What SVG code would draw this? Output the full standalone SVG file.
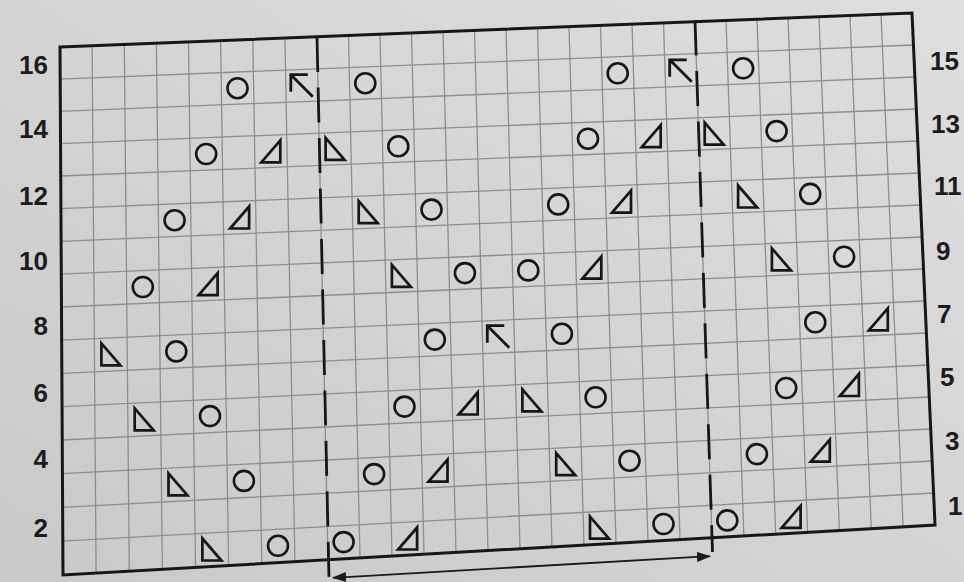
<svg xmlns="http://www.w3.org/2000/svg" xmlns:xlink="http://www.w3.org/1999/xlink" width="964" height="582" viewBox="0 0 964 582">
<defs>
<linearGradient id="paper" x1="0" y1="1" x2="1" y2="0">
<stop offset="0" stop-color="#c9c9c9"/>
<stop offset="0.5" stop-color="#d4d4d4"/>
<stop offset="1" stop-color="#dedede"/>
</linearGradient>
<circle id="o" r="10" fill="none" stroke="#161616" stroke-width="2.6"/>
<path id="a" d="M-9.5,11 L9.5,11 L9.5,-11 Z" fill="none" stroke="#161616" stroke-width="2.7" stroke-linejoin="miter"/>
<path id="b" d="M-9.5,-11 L-9.5,11 L9.5,11 Z" fill="none" stroke="#161616" stroke-width="2.7" stroke-linejoin="miter"/>
<path id="k" d="M-11,6 L-11,-11 L6,-11 M-11,-11 L11,11" fill="none" stroke="#161616" stroke-width="2.8" stroke-linecap="butt" stroke-linejoin="miter"/>
<marker id="ah" viewBox="0 0 14 10" refX="13" refY="5" markerWidth="14" markerHeight="10" markerUnits="userSpaceOnUse" orient="auto-start-reverse">
<path d="M0,0 L14,5 L0,10 Z" fill="#1a1a1a"/>
</marker>
<style>
.grid{fill:none;stroke:#8e8e8e;stroke-width:1.3}
.frame{fill:none;stroke:#171717;stroke-width:3;stroke-linejoin:miter}
.dash{fill:none;stroke:#171717;stroke-width:2.8;stroke-dasharray:35 15.5}
.lbl{font-family:"Liberation Sans",Arial,sans-serif;font-weight:700;font-size:26px;fill:#1c1c1c}
.l{text-anchor:end}
</style>
</defs>
<rect width="964" height="582" fill="url(#paper)"/>
<g id="grid">
<path class="grid" d="M92.1,45.7 L96.1,573.1 M124.3,44.4 L129.3,571.2 M156.4,43.2 L162.4,569.3 M188.5,41.9 L195.5,567.4 M220.6,40.6 L228.6,565.5 M252.8,39.3 L261.8,563.6 M284.9,38 L294.9,561.7 M317,36.7 L328,559.8 M348.5,35.5 L360,558 M380,34.2 L392,556.1 M411.5,33 L424,554.3 M443,31.7 L456,552.5 M474.5,30.5 L488,550.6 M506,29.2 L520,548.8 M537.5,27.9 L552,547 M569,26.7 L584,545.1 M600.5,25.4 L616,543.3 M632,24.2 L648,541.5 M663.5,22.9 L680,539.6 M695,21.7 L712,537.8 M726,20.4 L743.9,536 M757,19.2 L775.7,534.1 M788,18 L807.6,532.3 M819,16.7 L839.4,530.5 M850,15.5 L871.3,528.7 M881,14.2 L903.1,526.8"/>
<path class="grid" d="M62.8,541.1 L933.6,493 M62.6,507.3 L932.1,461 M62.4,473.6 L930.7,429 M62.3,440 L929.3,397 M62.1,406.6 L927.8,365 M61.9,373.3 L926.4,333 M61.7,340.1 L924.9,301 M61.5,307 L923.5,269 M61.3,274.1 L922.1,237 M61.1,241.3 L920.6,205 M60.9,208.6 L919.2,173 M60.8,176 L917.8,141 M60.6,143.6 L916.3,109 M60.4,111.3 L914.9,77 M60.2,79.1 L913.4,45"/>
</g>
<polygon id="frame" class="frame" points="60,47 912,13 935,525 63,575"/>
<g id="repeat-marks">
<line class="dash" x1="317" y1="37" x2="329" y2="578"/>
<line class="dash" x1="695" y1="20.5" x2="712.5" y2="552"/>
<line x1="333" y1="577.8" x2="710" y2="556.2" stroke="#1a1a1a" stroke-width="1.8" marker-start="url(#ah)" marker-end="url(#ah)"/>
</g>
<g id="row15">
<use href="#o" x="237.5" y="88.2"/><use href="#k" x="301.8" y="85.7"/><use href="#o" x="365.3" y="83.2"/>
<use href="#o" x="617.7" y="73.3"/><use href="#k" x="680.7" y="70.8"/><use href="#o" x="743.1" y="68.3"/>
</g>
<g id="row13">
<use href="#o" x="206.2" y="154"/><use href="#a" x="270.8" y="151.4"/><use href="#b" x="335.1" y="148.9"/><use href="#o" x="398.3" y="146.3"/>
<use href="#o" x="588" y="138.7"/><use href="#a" x="651.2" y="136.2"/><use href="#b" x="714.2" y="133.6"/><use href="#o" x="776.6" y="131.1"/>
</g>
<g id="row11">
<use href="#o" x="174.6" y="220.2"/><use href="#a" x="239.6" y="217.5"/><use href="#b" x="368.2" y="212.2"/><use href="#o" x="431.5" y="209.6"/>
<use href="#o" x="558.2" y="204.4"/><use href="#a" x="621.5" y="201.7"/><use href="#b" x="747.6" y="196.5"/><use href="#o" x="810.2" y="193.9"/>
</g>
<g id="row9">
<use href="#o" x="142.8" y="287"/><use href="#a" x="208.1" y="284.2"/><use href="#b" x="401.4" y="275.8"/><use href="#o" x="464.9" y="273.1"/>
<use href="#o" x="528.3" y="270.4"/><use href="#a" x="591.8" y="267.6"/><use href="#b" x="781.4" y="259.4"/><use href="#o" x="844.1" y="256.7"/>
</g>
<g id="row7">
<use href="#b" x="110.9" y="354.4"/><use href="#o" x="176.3" y="351.4"/><use href="#o" x="434.8" y="339.6"/><use href="#k" x="498.3" y="336.7"/>
<use href="#o" x="561.9" y="333.8"/><use href="#o" x="815.3" y="322.3"/><use href="#a" x="878.3" y="319.4"/>
</g>
<g id="row5">
<use href="#b" x="144.2" y="419.3"/><use href="#o" x="210" y="416.1"/><use href="#o" x="404.5" y="406.6"/><use href="#a" x="468.2" y="403.5"/>
<use href="#b" x="531.9" y="400.4"/><use href="#o" x="595.6" y="397.3"/><use href="#o" x="786.2" y="388"/><use href="#a" x="849.4" y="385"/>
</g>
<g id="row3">
<use href="#b" x="178" y="484.3"/><use href="#o" x="243.9" y="480.9"/><use href="#o" x="374.1" y="474.1"/><use href="#a" x="438" y="470.7"/>
<use href="#b" x="565.7" y="464.1"/><use href="#o" x="629.5" y="460.7"/><use href="#o" x="756.9" y="454.1"/><use href="#a" x="820.3" y="450.7"/>
</g>
<g id="row1">
<use href="#b" x="211.9" y="549.5"/><use href="#o" x="278" y="545.8"/><use href="#o" x="343.6" y="542.1"/><use href="#a" x="407.6" y="538.5"/>
<use href="#b" x="599.5" y="527.7"/><use href="#o" x="663.5" y="524"/><use href="#o" x="727.3" y="520.4"/><use href="#a" x="791.1" y="516.8"/>
</g>
<g id="labels-left">
<text class="lbl l" x="48" y="74">16</text>
<text class="lbl l" x="48" y="138">14</text>
<text class="lbl l" x="48" y="205">12</text>
<text class="lbl l" x="48" y="270">10</text>
<text class="lbl l" x="48" y="335">8</text>
<text class="lbl l" x="48" y="402">6</text>
<text class="lbl l" x="48" y="468">4</text>
<text class="lbl l" x="48" y="537">2</text>
</g>
<g id="labels-right">
<text class="lbl" x="930" y="70">15</text>
<text class="lbl" x="931" y="133">13</text>
<text class="lbl" x="934" y="195">11</text>
<text class="lbl" x="936" y="260">9</text>
<text class="lbl" x="937" y="323">7</text>
<text class="lbl" x="940" y="386">5</text>
<text class="lbl" x="945" y="450">3</text>
<text class="lbl" x="948" y="515">1</text>
</g>
</svg>
